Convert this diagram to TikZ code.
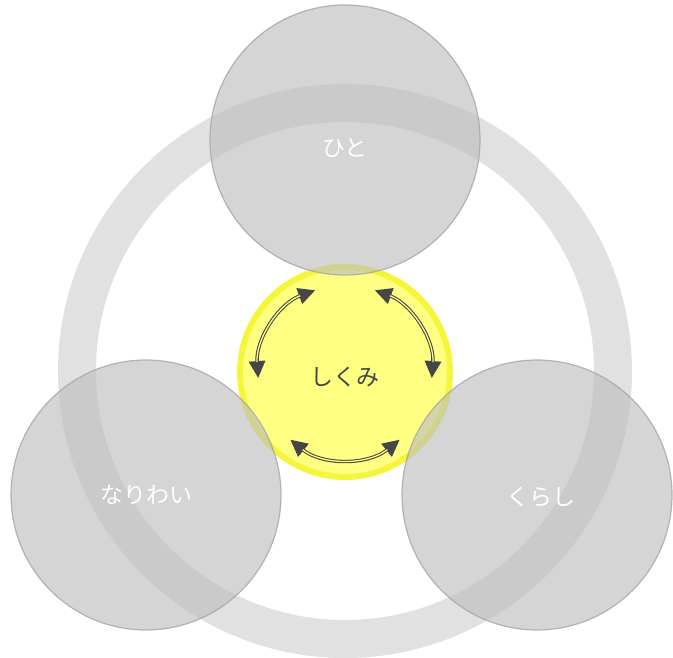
\documentclass[tikz,border=0pt]{standalone}
\usepackage{fontspec}
\newfontfamily\jpfont{Noto Sans CJK JP}
\usetikzlibrary{arrows.meta}
\definecolor{ringgray}{RGB}{225,225,225}
\definecolor{discgray}{RGB}{190,190,190}
\definecolor{discline}{RGB}{165,165,165}
\definecolor{paleyellow}{RGB}{255,255,130}
\definecolor{rimyellow}{RGB}{245,245,60}
\definecolor{arrowgray}{RGB}{70,70,70}
\begin{document}
\begin{tikzpicture}[x=1pt,y=-1pt,
  disc/.style={circle,minimum size=270pt,inner sep=0pt,fill=discgray,fill opacity=0.65,
    draw=discline,line width=1.2pt,draw opacity=0.8},
  label/.style={text=white,font=\jpfont\fontsize{23}{23}\selectfont},
  cycle/.style={arrowgray,line width=3.4pt,
    {Triangle[length=17pt,width=16pt]}-{Triangle[length=17pt,width=16pt]}},
  cyclein/.style={paleyellow,line width=1.3pt,shorten <=16pt,shorten >=16pt}]
\useasboundingbox (0,0) rectangle (673,658);
% outer ring
\draw[ringgray,line width=38pt] (345,371) circle[radius=268];
% centre
\node[circle,minimum size=210pt,inner sep=0pt,fill=paleyellow,draw=rimyellow,line width=6pt] (shikumi) at (345,372) {};
% three discs
\node[disc] (hito) at (345,140) {};
\node[disc] (nariwai) at (146,495) {};
\node[disc] (kurashi) at (537,495) {};
\node[label] at (hito.center) [yshift=-8pt] {ひと};
\node[label] at (nariwai.center) {なりわい};
\node[label] at (kurashi.center) [xshift=4pt,yshift=-2pt] {くらし};
\node[label,text=arrowgray] at (shikumi.center) [yshift=-5pt] {しくみ};
% arrows
\foreach \a/\b in {250/176,-70/4,129/51}{
  \draw[cycle] ([shift={(\a:87)}]shikumi.center) arc[start angle=\a,end angle=\b,radius=87];
  \draw[cyclein] ([shift={(\a:87)}]shikumi.center) arc[start angle=\a,end angle=\b,radius=87];
}
\end{tikzpicture}
\end{document}
